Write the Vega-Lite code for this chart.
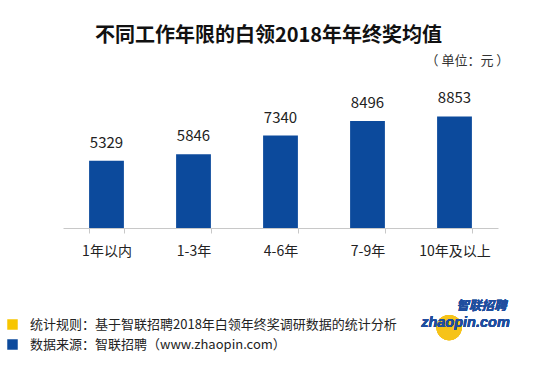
{
  "$schema": "https://vega.github.io/schema/vega-lite/v6.json",
  "autosize": {"type": "none"},
  "width": 435,
  "height": 126,
  "padding": {"left": 63, "top": 102, "right": 52, "bottom": 140},
  "background": "white",
  "config": {
    "font": "Noto Sans CJK SC",
    "view": {"stroke": null}
  },
  "title": {
    "text": "不同工作年限的白领2018年年终奖均值",
    "font": "Noto Sans CJK SC",
    "fontSize": 20,
    "fontWeight": "bold",
    "color": "#111111",
    "anchor": "middle",
    "frame": "group",
    "dx": -12,
    "offset": 8
  },
  "data": {
    "values": [
      {"group": "1年以内", "value": 5329, "src": "数据来源：智联招聘（www.zhaopin.com）"},
      {"group": "1-3年", "value": 5846, "src": "数据来源：智联招聘（www.zhaopin.com）"},
      {"group": "4-6年", "value": 7340, "src": "数据来源：智联招聘（www.zhaopin.com）"},
      {"group": "7-9年", "value": 8496, "src": "数据来源：智联招聘（www.zhaopin.com）"},
      {"group": "10年及以上", "value": 8853, "src": "数据来源：智联招聘（www.zhaopin.com）"}
    ]
  },
  "encoding": {
    "x": {
      "field": "group",
      "type": "nominal",
      "sort": null,
      "scale": {"paddingInner": 0.6, "paddingOuter": 0.3},
      "axis": {
        "title": null,
        "labelAngle": 0,
        "labelFontSize": 14,
        "labelColor": "#222222",
        "labelPadding": 11,
        "domainColor": "#c8c8c8",
        "tickColor": "#c8c8c8",
        "tickBand": "extent",
        "tickSize": 5,
        "grid": false
      }
    },
    "y": {
      "field": "value",
      "type": "quantitative",
      "scale": {"domain": [0, 10000]},
      "axis": {
        "title": "（ 单位：元 ）",
        "titleAngle": 0,
        "titleFontSize": 13,
        "titleFontWeight": "normal",
        "titleColor": "#333333",
        "titleAlign": "left",
        "titleBaseline": "middle",
        "titleX": 362,
        "titleY": -42,
        "labels": false,
        "ticks": false,
        "domain": false,
        "grid": false
      }
    }
  },
  "layer": [
    {
      "mark": {"type": "bar"},
      "encoding": {
        "color": {
          "field": "src",
          "type": "nominal",
          "scale": {
            "domain": ["统计规则：基于智联招聘2018年白领年终奖调研数据的统计分析", "数据来源：智联招聘（www.zhaopin.com）"],
            "range": ["#f7c600", "#0c4a9c"]
          },
          "legend": {
            "title": null,
            "orient": "none",
            "legendX": -57,
            "legendY": 216,
            "symbolType": "square",
            "symbolSize": 110,
            "symbolStrokeWidth": 0,
            "symbolOpacity": 1,
            "labelFontSize": 13,
            "labelColor": "#222222",
            "labelOffset": 11,
            "labelLimit": 500,
            "rowPadding": 6
          }
        }
      }
    },
    {
      "mark": {"type": "text", "dy": -18, "fontSize": 15, "color": "#222222"},
      "encoding": {"text": {"field": "value", "type": "quantitative"}}
    },
    {
      "mark": {"type": "point", "filled": true, "shape": "circle", "size": 640, "color": "#f6c319", "opacity": 0.95},
      "encoding": {
        "x": {"datum": "10年及以上"},
        "y": {"datum": -7900},
        "xOffset": {"value": 12}
      }
    },
    {
      "mark": {"type": "text", "text": "zhaopin.com", "fontSize": 14.5, "fontWeight": "bold", "fontStyle": "italic", "font": "Liberation Sans", "color": "#1f4e9e", "dx": 11, "baseline": "middle"},
      "encoding": {
        "x": {"datum": "10年及以上"},
        "y": {"datum": -7500}
      }
    },
    {
      "mark": {"type": "text", "text": "智联招聘", "fontSize": 12.5, "fontWeight": "bold", "fontStyle": "italic", "color": "#1f4e9e", "dx": 27, "baseline": "middle"},
      "encoding": {
        "x": {"datum": "10年及以上"},
        "y": {"datum": -6200}
      }
    }
  ]
}
